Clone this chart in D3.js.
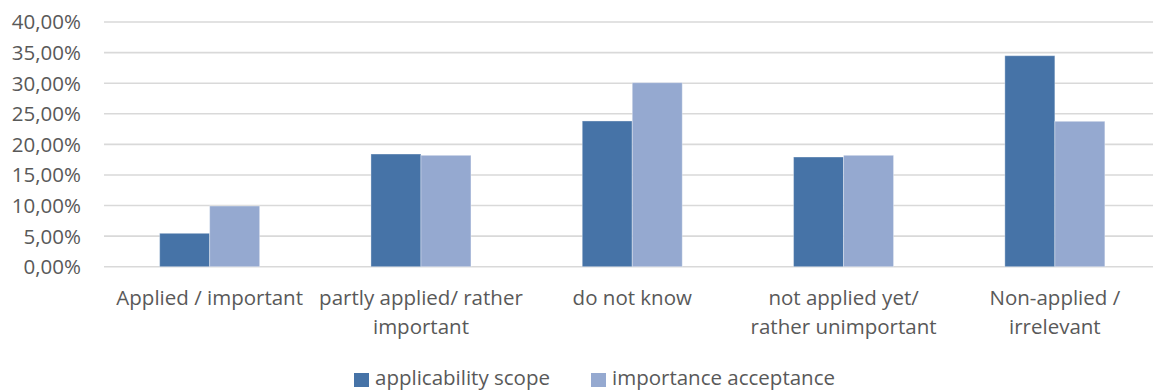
<!DOCTYPE html>
<html>
<head>
<meta charset="utf-8">
<script src="https://cdn.jsdelivr.net/npm/d3@7"></script>
<style>
  html, body { margin: 0; padding: 0; background: #ffffff; }
  svg { display: block; }
  text { font-family: "Open Sans", "Noto Sans", sans-serif; fill: #595959; }
</style>
</head>
<body>
<svg id="chart" width="1153" height="392"></svg>
<script>
// Response categories (x axis), each as its wrapped label lines
const categories = [
  "Applied / important",
  "partly applied/ rather important",
  "do not know",
  "not applied yet/ rather unimportant",
  "Non-applied / irrelevant"
];
const categoryLines = [
  ["Applied / important"],
  ["partly applied/ rather", "important"],
  ["do not know"],
  ["not applied yet/", "rather unimportant"],
  ["Non-applied /", "irrelevant"]
];

// Series names and shares (fractions)
const seriesNames = ["applicability scope", "importance acceptance"];
const applicabilityScope   = [0.0546, 0.1842, 0.2382, 0.1793, 0.3449];
const importanceAcceptance = [0.0992, 0.1821, 0.3008, 0.1821, 0.2377];

// Y axis ticks
const yTicks = [0, 0.05, 0.10, 0.15, 0.20, 0.25, 0.30, 0.35, 0.40];

const seriesValues = [applicabilityScope, importanceAcceptance];
const seriesColors = ["#4673a7", "#95a9d0"];

const svg = d3.select("#chart");
const fontSize = 20.5;

const plot = { left: 104, right: 1160.5, top: 22, bottom: 266.7 };

const x = d3.scaleBand()
  .domain(categories)
  .range([plot.left, plot.right])
  .paddingInner(0)
  .paddingOuter(0);

const groupWidth = x.bandwidth() * 0.4733;
const x1 = d3.scaleBand()
  .domain(seriesNames)
  .range([0, groupWidth])
  .padding(0);

const y = d3.scaleLinear()
  .domain([0, 0.4])
  .range([plot.bottom, plot.top]);

const pct = d3.formatLocale({
  decimal: ",", thousands: ".", grouping: [3], currency: ["", "€"], percent: "%"
}).format(".2%");

// Horizontal gridlines
svg.append("g")
  .selectAll("line")
  .data(yTicks)
  .join("line")
  .attr("x1", plot.left)
  .attr("x2", plot.right)
  .attr("y1", d => y(d))
  .attr("y2", d => y(d))
  .attr("stroke", "#d9d9d9")
  .attr("stroke-width", 1.6);

// Y axis labels
const yAxis = d3.axisLeft(y)
  .tickValues(yTicks)
  .tickFormat(pct)
  .tickSize(0)
  .tickPadding(0);
const yg = svg.append("g")
  .attr("transform", `translate(${81},0)`)
  .call(yAxis);
yg.select(".domain").remove();
yg.selectAll("text")
  .attr("font-size", fontSize)
  .attr("font-family", null)
  .attr("fill", "#595959")
  .attr("dy", "0.34em");

// Bars
const rows = categories.map((c, i) => ({
  category: c,
  values: seriesNames.map((s, k) => ({ series: s, value: seriesValues[k][i], color: seriesColors[k] }))
}));

const groups = svg.append("g")
  .selectAll("g")
  .data(rows)
  .join("g")
  .attr("transform", d => `translate(${x(d.category) + (x.bandwidth() - groupWidth) / 2},0)`);

groups.selectAll("rect")
  .data(d => d.values)
  .join("rect")
  .attr("x", d => x1(d.series))
  .attr("width", x1.bandwidth())
  .attr("y", d => y(d.value))
  .attr("height", d => y(0) - y(d.value))
  .attr("fill", d => d.color)
  .attr("stroke", "rgba(255,255,255,0.35)")
  .attr("stroke-width", 1);

// X axis category labels (wrapped)
const xAxis = d3.axisBottom(x).tickSize(0).tickFormat("");
const xg = svg.append("g")
  .attr("transform", `translate(0,${plot.bottom})`)
  .call(xAxis);
xg.select(".domain").remove();
xg.selectAll(".tick text").remove();
xg.selectAll(".tick")
  .append("text")
  .attr("text-anchor", "middle")
  .attr("font-size", fontSize)
  .attr("fill", "#595959")
  .selectAll("tspan")
  .data((d, i) => categoryLines[i])
  .join("tspan")
  .attr("x", 0)
  .attr("y", (d, j) => 38.5 + j * 28.5)
  .text(d => d);

// Legend
const legendItems = [
  { name: seriesNames[0], color: seriesColors[0], x: 354 },
  { name: seriesNames[1], color: seriesColors[1], x: 591 }
];
const legend = svg.append("g");
const li = legend.selectAll("g")
  .data(legendItems)
  .join("g")
  .attr("transform", d => `translate(${d.x},0)`);
li.append("rect")
  .attr("x", 0)
  .attr("y", 373)
  .attr("width", 15)
  .attr("height", 14)
  .attr("fill", d => d.color);
li.append("text")
  .attr("x", 21)
  .attr("y", 385)
  .attr("font-size", fontSize)
  .attr("fill", "#595959")
  .text(d => d.name);
</script>
</body>
</html>
